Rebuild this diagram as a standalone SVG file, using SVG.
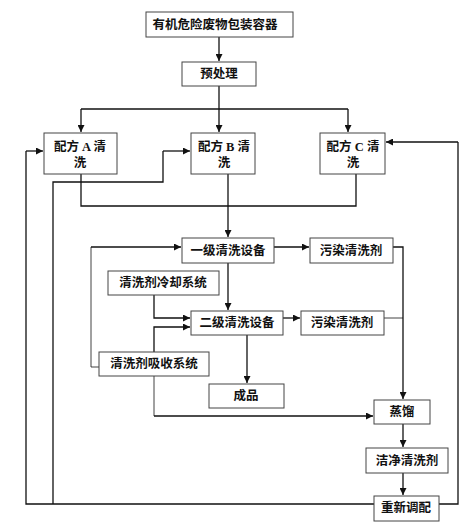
<svg xmlns="http://www.w3.org/2000/svg" width="470" height="526" viewBox="0 0 470 526">
<style>
rect.n{fill:#fff;stroke:#444;stroke-width:1}
text{font-family:"Liberation Serif","Noto Sans CJK SC",serif;font-size:12.5px;font-weight:bold;fill:#111;text-anchor:middle;dominant-baseline:central}
.c path{fill:none;stroke:#111;stroke-width:1.3}
.c path.t{stroke-width:0.8}
</style>
<defs>
<marker id="a" viewBox="0 0 8 8" refX="8" refY="4" markerWidth="7" markerHeight="7" markerUnits="userSpaceOnUse" orient="auto">
<path d="M0,0 L8,4 L0,8 Z" fill="#111"/>
</marker>
</defs>
<rect width="470" height="526" fill="#fff"/>
<g class="c">
<path d="M219,37 V61" marker-end="url(#a)"/>
<path d="M219,86 V132" marker-end="url(#a)"/>
<path d="M81,109 H348"/>
<path d="M81,109 V132" marker-end="url(#a)"/>
<path d="M348,109 V132" marker-end="url(#a)"/>
<path d="M81,174 V206 H356 V174"/>
<path d="M228,174 V206"/>
<path d="M228,206 V237" marker-end="url(#a)"/>
<path d="M274,247 H309" marker-end="url(#a)"/>
<path d="M228,263 V310" marker-end="url(#a)"/>
<path d="M393,247 H403 V399" marker-end="url(#a)"/>
<path class="t" d="M384,318 H403"/>
<path d="M283,318 H300" marker-end="url(#a)"/>
<path d="M154,295 V318 H190" marker-end="url(#a)"/>
<path d="M154,352 V327 H190" marker-end="url(#a)"/>
<path class="t" d="M99,367 H91 V247"/>
<path d="M91,247 H181" marker-end="url(#a)"/>
<path d="M247,335 V383" marker-end="url(#a)"/>
<path class="t" d="M154,376 V416"/>
<path d="M154,416 H373" marker-end="url(#a)"/>
<path d="M403,424 V447" marker-end="url(#a)"/>
<path d="M403,473 V495" marker-end="url(#a)"/>
<path d="M374,504 H26 V151"/>
<path d="M26,151 H43" marker-end="url(#a)"/>
<path d="M53,504 V182 H163 V151"/>
<path d="M163,151 H190" marker-end="url(#a)"/>
<path d="M439,504 H458 V142"/>
<path d="M458,142 H386" marker-end="url(#a)"/>
</g>
<g id="n1"><rect class="n" x="146" y="12" width="147" height="25"/><text x="215" y="25">有机危险废物包装容器</text></g>
<g id="n2"><rect class="n" x="182" y="62" width="74" height="24"/><text x="219" y="74">预处理</text></g>
<g id="n3"><rect class="n" x="44" y="133" width="73" height="41"/><text x="80" y="147">配方 A 清</text><text x="80" y="163">洗</text></g>
<g id="n4"><rect class="n" x="191" y="133" width="64" height="41"/><text x="224" y="147">配方 B 清</text><text x="224" y="163">洗</text></g>
<g id="n5"><rect class="n" x="320" y="133" width="65" height="41"/><text x="353" y="147">配方 C 清</text><text x="353" y="163">洗</text></g>
<g id="n6"><rect class="n" x="182" y="238" width="92" height="25"/><text x="228" y="251">一级清洗设备</text></g>
<g id="n7"><rect class="n" x="310" y="238" width="83" height="25"/><text x="351" y="251">污染清洗剂</text></g>
<g id="n8"><rect class="n" x="108" y="271" width="111" height="24"/><text x="163" y="283">清洗剂冷却系统</text></g>
<g id="n9"><rect class="n" x="191" y="311" width="92" height="24"/><text x="237" y="323">二级清洗设备</text></g>
<g id="n10"><rect class="n" x="301" y="311" width="83" height="24"/><text x="342" y="323">污染清洗剂</text></g>
<g id="n11"><rect class="n" x="99" y="352" width="110" height="24"/><text x="154" y="364">清洗剂吸收系统</text></g>
<g id="n12"><rect class="n" x="209" y="384" width="75" height="24"/><text x="246" y="396">成品</text></g>
<g id="n13"><rect class="n" x="374" y="400" width="56" height="24"/><text x="402" y="412">蒸馏</text></g>
<g id="n14"><rect class="n" x="366" y="448" width="82" height="25"/><text x="407" y="461">洁净清洗剂</text></g>
<g id="n15"><rect class="n" x="374" y="496" width="65" height="25"/><text x="406" y="508">重新调配</text></g>
</svg>
